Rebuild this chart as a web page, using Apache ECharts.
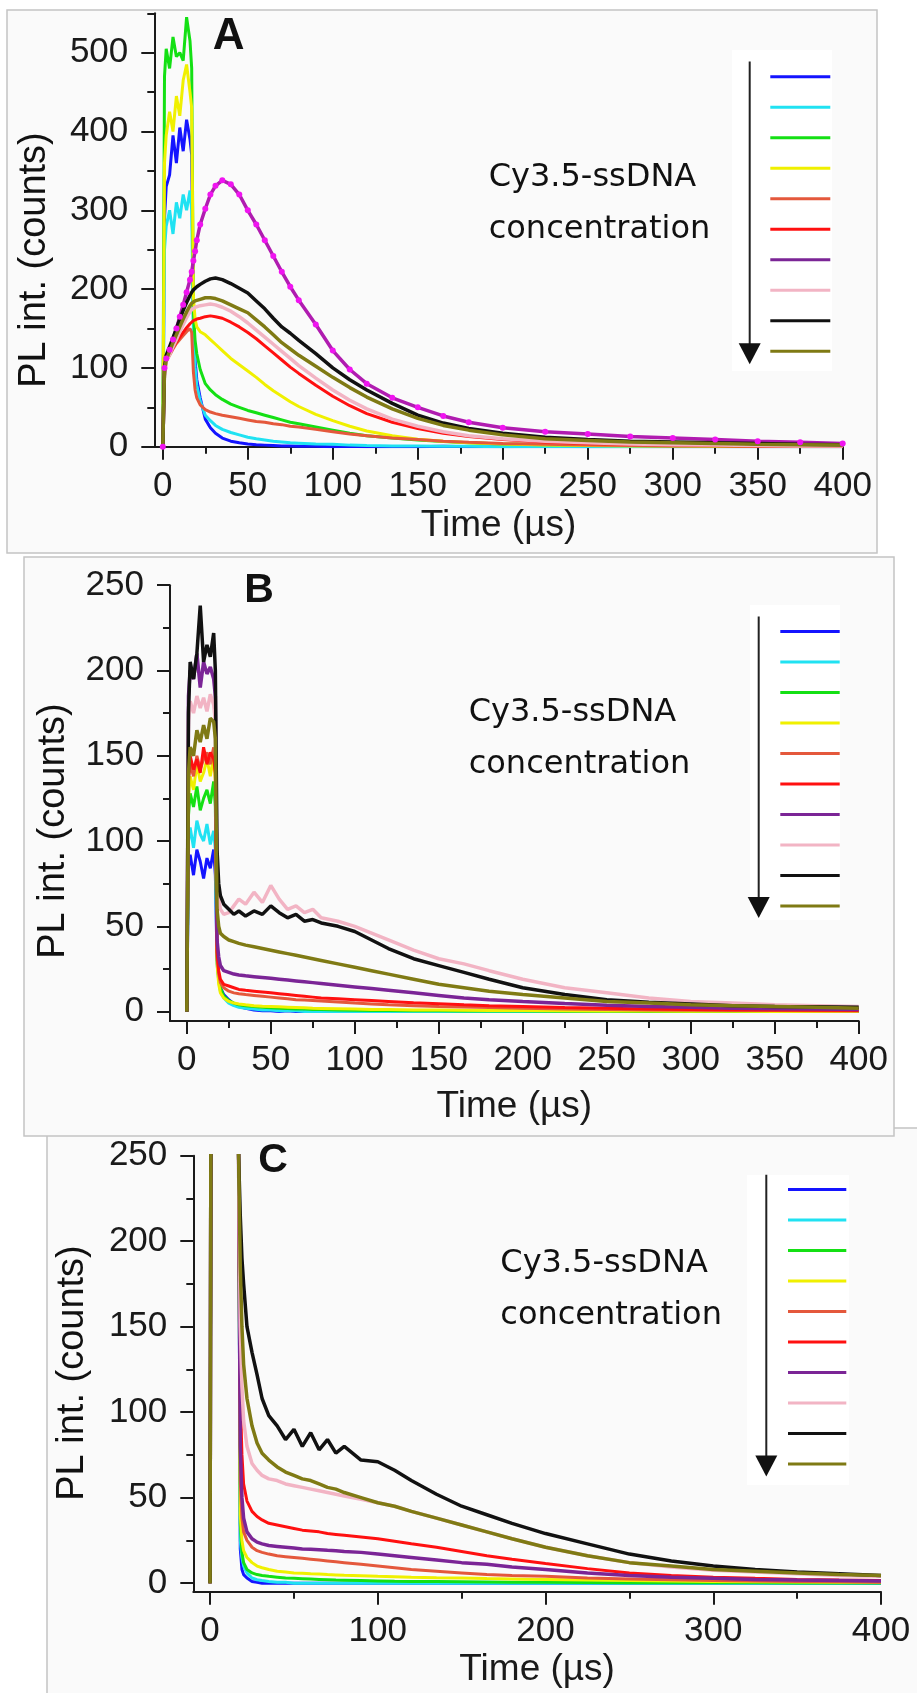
<!DOCTYPE html>
<html><head><meta charset="utf-8">
<script src="https://cdn.jsdelivr.net/npm/echarts@6/dist/echarts.min.js"></script>
<style>html,body{margin:0;padding:0;background:#fff}#c{width:917px;height:1693px}</style>
</head><body><div id="c"></div>
<script>
// Time grid (µs) shared by all series
const T = [0,1,2,4,6,8,10,12,14,16, 17,18,19,20,22,25,28,31,35,40, 45,50,55,60,65,70,75,80,90,100, 110,120,135,150,165,180,200,225,250,275, 300,325,350,375,400];

// Panel A
const A_blue   = [0,290,330,345,395,360,405,375,415,390, 370,160,110,85,62,35,24,17,11,7, 5,3.5,2.5,2,1.5,1,1,0.5,0.5,0, 0.5,0,0,0,0.5,0,0,0,0,0, 0,0,0,0,0];
const A_cyan   = [0,250,280,300,270,310,290,320,300,325, 300,150,100,78,58,40,33,27,22,18, 15,12,10,8.5,7,6,5,4.5,3.5,3, 2,1.5,1,1,0.5,0.5,0,0.5,0,0, 0,0,0,0,0];
const A_green  = [0,470,505,480,520,495,500,490,545,515, 480,170,135,118,98,80,72,66,60,54, 50,46,43,40,37,34,31,29,25,21, 17,14,11,8.5,6.5,5,3.5,2.5,2,1.5, 1,1,0.5,0.5,0.5];
const A_yellow = [0,360,395,425,400,445,420,465,485,450, 430,190,162,152,146,142,136,130,122,112, 104,96,88,79,71,64,57,51,41,33, 26,20,14,9.5,7,5,3.5,2,1.5,1, 1,0.5,0.5,0,0];
const A_coral  = [0,90,108,116,124,131,136,141,146,150, 145,95,72,62,53,47,44,42,40,38, 36,34,32,31,29,28,26,25,22,19, 16,14,11,9,7,5.5,4,3,2,1.5, 1,1,0.5,0.5,0.5];
const A_red    = [0,95,110,118,126,133,139,145,151,156, 158,160,161,162,163,165,166,165,163,158, 152,145,137,128,119,110,101,93,78,64, 52,42,31,23,17,13,9,6,4,3, 2,1.5,1,1,0.5];
const A_purple = [0,100,112,123,136,150,165,180,196,212, 222,236,248,262,282,302,320,331,338,333, 320,300,282,262,242,222,203,186,155,122, 98,80,62,50,39,31,24,19,16,13, 11,9,7,5.5,4];
const A_pink   = [0,95,108,117,127,136,146,155,164,171, 174,176,177,178,179,180,181,180,177,172, 165,157,148,139,130,121,112,103,87,72, 59,48,35,26,19,14,10,7,5,3.5, 2.5,2,1.5,1,1];
const A_black  = [0,100,116,127,138,150,162,173,183,192, 196,199,201,203,206,210,213,214,212,207, 201,195,185,175,163,152,144,135,118,100, 85,72,55,40,30,23,17,12,9,7, 6,5,4,3,2.5];
const A_olive  = [0,96,110,121,132,142,152,162,171,179, 182,184,185,186,187,189,189,188,185,180, 175,170,161,152,142,132,124,116,102,88, 75,63,48,36,27,21,15,10,8,6, 5,4,3,2.5,2];

// Panel B
const B_blue   = [0,85,92,80,95,88,78,90,84,95, 80,30,20,14,10,7,4.5,3,2,1, 0.5,0.5,0,0.5,0,0,0,0,0,0, 0,0,0,0,0,0,0,0,0,0, 0,0,0,0,0];
const B_cyan   = [0,100,108,96,112,104,100,110,98,106, 95,28,18,12,8,5,3.5,2.5,2,1.5, 1,1,0.5,0.5,0.5,0,0,0,0,0, 0,0,0,0,0,0,0,0,0,0, 0,0,0,0,0];
const B_green  = [0,115,128,120,132,118,125,130,122,135, 120,32,20,14,9,6.5,5,4,3.5,3, 2.5,2.2,2,1.8,1.6,1.5,1.3,1.2,1,0.8, 0.7,0.6,0.5,0.5,0.4,0.3,0.3,0.2,0.2,0.1, 0,0,0,0,0];
const B_yellow = [0,125,138,130,145,135,140,148,138,150, 135,28,16,11,8,6,5,4.5,4,3.5, 3.2,3,2.8,2.6,2.4,2.2,2,1.9,1.7,1.5, 1.3,1.2,1,0.9,0.8,0.7,0.6,0.5,0.4,0.3, 0.2,0.2,0.1,0.1,0];
const B_coral  = [0,135,145,138,150,142,148,152,145,155, 140,32,22,17,14,12,11,10.5,10,9.5, 9,8.5,8,7.5,7,6.8,6.5,6.2,5.6,5, 4.5,4,3.5,3,2.7,2.4,2,1.6,1.3,1, 0.8,0.7,0.6,0.5,0.4];
const B_red    = [0,138,150,142,148,140,155,145,152,148, 140,35,24,19,16,15,14,13,12.5,12, 11.5,11,10.5,10,9.5,9,8.5,8,7.5,7, 6.5,6,5.2,4.6,4,3.5,3,2.4,2,1.6, 1.3,1.1,1,0.8,0.7];
const B_purple = [0,185,200,195,210,190,205,198,202,195, 185,42,32,27,24,23,22,21.5,21,20.5, 20,19.5,19,18.5,18,17.5,17,16.5,15.5,14.5, 13.5,12.5,11,9.5,8,7,6,4.8,3.8,3, 2.5,2,1.7,1.5,1.3];
const B_pink   = [0,170,182,175,185,178,184,176,186,180, 170,85,66,60,57,58,62,66,63,70, 64,74,66,60,62,58,60,55,53,50, 46,42,36,31,28,24,19,14,11,8, 6,5,4,3.5,3];
const B_black  = [0,175,205,195,210,238,205,215,208,222, 200,95,75,68,63,60,57,59,56,59, 57,62,58,55,57,53,54,52,50,47, 42,37,31,27,23,19,14,10,7,5.5, 4.5,3.5,3,2.8,2.5];
const B_olive  = [0,140,155,150,165,158,168,160,172,170, 160,60,50,46,44,42,41,40,39,38, 37,36,35,34,33,32,31,30,28,26, 24,22,19,16,14,12,10,8,6,5, 4,3.5,3,2.5,2];

// Panel C
const C_blue   = [0,520,560,540,580,550,570,545,575,560, 255,20,8,5,3,1,0.5,0,0,0, 0,0,0,0,0,0,0,0,0,0, 0,0,0,0,0,0,0,0,0,0, 0,0,0,0,0];
const C_cyan   = [0,530,550,565,545,575,555,580,560,570, 255,25,15,10,6,3,2,1.5,1,0.5, 0.5,0,0,0,0,0,0,0,0,0, 0,0,0,0,0,0,0,0,0,0, 0,0,0,0,0];
const C_green  = [0,545,570,560,585,565,580,560,590,575, 255,35,18,12,8,6,5,4.5,4,3.5, 3,2.8,2.6,2.4,2.2,2,1.8,1.7,1.5,1.3, 1.1,1,0.9,0.8,0.7,0.6,0.5,0.4,0.3,0.3, 0.2,0.2,0.1,0.1,0.1];
const C_yellow = [0,540,575,555,590,560,585,565,595,570, 255,40,25,19,15,12,10,9,8,7, 6.5,6,5.8,5.5,5.3,5,4.8,4.6,4.3,4, 3.8,3.5,3.2,3,2.7,2.5,2.2,1.8,1.5,1.2, 1,0.8,0.7,0.6,0.5];
const C_coral  = [0,550,580,565,590,570,585,575,595,580, 255,60,38,30,25,21,19,18,17,16, 15.5,15,14.5,14,13.5,13,12.5,12,11,10, 9,8,7,6,5,4.5,4,3,2.5,2, 1.5,1.2,1,0.8,0.6];
const C_red    = [0,560,590,575,600,580,595,585,605,590, 250,110,75,58,48,42,39,37,35,34, 33,32,31,30.5,30,29,28.5,28,27,26, 24.5,23,21,18.5,16,14,11.5,8.5,6,4.5, 3.5,2.8,2.2,1.8,1.5];
const C_purple = [0,555,585,570,600,575,590,580,600,585, 250,80,50,38,30,26,24,23,22,21.5, 21,20.5,20,19.8,19.5,19.2,19,18.5,18,17, 16,15,13.5,12,11,9.5,8,6,4.5,3.5, 2.8,2.2,1.8,1.5,1.2];
const C_pink   = [0,565,595,580,610,585,600,590,610,595, 250,150,115,95,80,70,66,63,61,60, 58,57,56,55,54,53,52,51,49,47, 45,42,38,34,30,26,21,16,12,9.5, 7.5,6.5,5.5,4.5,4];
const C_black  = [0,575,605,590,620,595,610,600,620,605, 250,215,190,175,150,135,122,108,98,92, 84,90,80,88,78,84,76,80,72,71, 66,60,52,45,40,35,29,23,17,13, 10,8,6.5,5.5,4.5];
const C_olive  = [0,570,600,585,615,590,605,595,615,600, 250,185,150,128,108,92,82,76,72,68, 65,63,61,60,58,56,55,53,50,47, 45,42,38,34,30,26,21,16,12,10, 8,7,6,5,4.5];

// Tick values
const X_MAJOR_AB = [0,50,100,150,200,250,300,350,400];
const X_MINOR_AB = [25,75,125,175,225,275,325,375];
const X_MAJOR_C  = [0,100,200,300,400];
const X_MINOR_C  = [50,150,250,350];
const Y_MAJOR_A  = [0,100,200,300,400,500];
const Y_MINOR_A  = [50,150,250,350,450,550];
const Y_MAJOR_BC = [0,50,100,150,200,250];
const Y_MINOR_BC = [25,75,125,175,225];

const COLORS = ['#1414ff','#20e2f2','#14e014','#f0f000','#e4583c','#ff1010','#7b2596','#f2b4c4','#111111','#7f7a14'];

const FONT = "'Liberation Sans', Arial, Helvetica, sans-serif";
const panels = [
  {id:'A', grid:{left:154.3, top:13.3, width:688.4, height:433.4}, x:[-5,400], y:[0,550],
   xMaj:X_MAJOR_AB, xMin:X_MINOR_AB, yMaj:Y_MAJOR_A, yMin:Y_MINOR_A, nameGap:61,
   data:[A_blue,A_cyan,A_green,A_yellow,A_coral,A_red,A_purple,A_pink,A_black,A_olive],
   legend:{left:770.3, top:75.3, w:60}},
  {id:'B', grid:{left:170, top:585.2, width:688.7, height:435.8}, x:[-10,400], y:[-5.5,250],
   xMaj:X_MAJOR_AB, xMin:X_MINOR_AB, yMaj:Y_MAJOR_BC, yMin:Y_MINOR_BC, nameGap:67,
   data:[B_blue,B_cyan,B_green,B_yellow,B_coral,B_red,B_purple,B_pink,B_black,B_olive],
   legend:{left:780.3, top:629.9, w:59.4}},
  {id:'C', grid:{left:193.3, top:1155.7, width:687.7, height:436}, x:[-10,400], y:[-5,250],
   xMaj:X_MAJOR_C, xMin:X_MINOR_C, yMaj:Y_MAJOR_BC, yMin:Y_MINOR_BC, nameGap:60,
   data:[C_blue,C_cyan,C_green,C_yellow,C_coral,C_red,C_purple,C_pink,C_black,C_olive],
   legend:{left:788, top:1187.9, w:58.3}}
];

const AX = '#1a1a1a';
const grid=[], xAxis=[], yAxis=[], series=[], legend=[];
panels.forEach((p, gi) => {
  grid.push(Object.assign({containLabel:false}, p.grid));
  const xi = xAxis.length, yi = yAxis.length;
  xAxis.push({type:'value', gridIndex:gi, min:p.x[0], max:p.x[1], position:'bottom',
    axisLine:{show:true, onZero:false, lineStyle:{color:AX, width:2}},
    axisTick:{show:true, customValues:p.xMaj, length:13, lineStyle:{color:AX, width:2}},
    axisLabel:{customValues:p.xMaj, fontSize:35, fontFamily:FONT, color:'#1a1a1a', margin:22},
    splitLine:{show:false}, name:'Time (\u00b5s)', nameLocation:'middle', nameGap:p.nameGap,
    nameTextStyle:{fontSize:37, fontFamily:FONT, color:'#1a1a1a'}});
  xAxis.push({type:'value', gridIndex:gi, min:p.x[0], max:p.x[1], position:'bottom',
    axisLine:{show:false, onZero:false},
    axisTick:{show:true, customValues:p.xMin, length:7, lineStyle:{color:AX, width:2}},
    axisLabel:{show:false}, splitLine:{show:false}});
  yAxis.push({type:'value', gridIndex:gi, min:p.y[0], max:p.y[1], position:'left',
    axisLine:{show:true, onZero:false, lineStyle:{color:AX, width:2}},
    axisTick:{show:true, customValues:p.yMaj, length:13, lineStyle:{color:AX, width:2}},
    axisLabel:{customValues:p.yMaj, fontSize:35, fontFamily:FONT, color:'#1a1a1a', margin:26},
    splitLine:{show:false}});
  yAxis.push({type:'value', gridIndex:gi, min:p.y[0], max:p.y[1], position:'left',
    axisLine:{show:false, onZero:false},
    axisTick:{show:true, customValues:p.yMin, length:7, lineStyle:{color:AX, width:2}},
    axisLabel:{show:false}, splitLine:{show:false}});
  const names = [];
  p.data.forEach((vals, si) => {
    const name = p.id + (si+1);
    names.push(name);
    const magenta = (p.id === 'A' && si === 6);
    const heavy = (si >= 6);
    series.push({type:'line', name, xAxisIndex:xi, yAxisIndex:yi,
      data: T.map((t,i)=>[t, vals[i]]),
      showSymbol: magenta, symbol:'circle', symbolSize: magenta ? 6 : 2,
      itemStyle:{color: magenta ? '#f014f0' : COLORS[si]},
      lineStyle:{color: magenta ? '#b01cb0' : COLORS[si], width: heavy ? 3.5 : 3},
      clip:true, animation:false, silent:true});
  });
  legend.push({orient:'vertical', left:p.legend.left, top:p.legend.top, padding:0,
    itemWidth:p.legend.w, itemHeight:3, itemGap:27.5, icon:'rect', selectedMode:false,
    formatter:()=>'', textStyle:{fontSize:3, lineHeight:3},
    data: names.map((n,i)=>({name:n, itemStyle:{color:COLORS[i]}}))});
});

function arrow(x, y0, tip){
  return [
    {type:'line', shape:{x1:x, y1:y0, x2:x, y2:tip-18}, style:{stroke:'#222', lineWidth:2}, z:50},
    {type:'polygon', shape:{points:[[x-11, tip-21],[x+11, tip-21],[x, tip]]}, style:{fill:'#111'}, z:50}
  ];
}
function txt(x, y, text, font, align, extra){
  return Object.assign({type:'text', x, y, z:60,
    style:{text, font, fill:'#111', align:align||'left', textAlign:align||'left', verticalAlign:'middle', textVerticalAlign:'middle'}}, extra||{});
}
const LFONT = "32px 'DejaVu Sans', Verdana, sans-serif";
const YFONT = "38px 'Liberation Sans', Arial, sans-serif";
const graphic = [
  // frames (C first, then B over it, then A)
  {type:'rect', shape:{x:47, y:1128, width:900, height:600}, style:{fill:'#fafafa', stroke:'#c4c4c4', lineWidth:1.5}, z:-10},
  {type:'rect', shape:{x:24, y:557, width:870, height:579}, style:{fill:'#fafafa', stroke:'#c4c4c4', lineWidth:1.5}, z:-9},
  {type:'rect', shape:{x:7, y:10, width:870, height:543}, style:{fill:'#fafafa', stroke:'#c4c4c4', lineWidth:1.5}, z:-9},
  // white patches behind legends
  {type:'rect', shape:{x:732, y:50, width:100, height:321}, style:{fill:'#ffffff'}, z:-8},
  {type:'rect', shape:{x:750, y:605, width:90, height:315}, style:{fill:'#ffffff'}, z:-8},
  {type:'rect', shape:{x:747, y:1175, width:102, height:310}, style:{fill:'#ffffff'}, z:-8},
  ...arrow(749.7, 61.4, 364.3),
  ...arrow(758.7, 616.6, 918),
  ...arrow(766.3, 1174.8, 1476.4),
  txt(488.7, 178, 'Cy3.5-ssDNA', LFONT),
  txt(488.7, 230, 'concentration', LFONT),
  txt(468.7, 713, 'Cy3.5-ssDNA', LFONT),
  txt(468.7, 765, 'concentration', LFONT),
  txt(500.3, 1264, 'Cy3.5-ssDNA', LFONT),
  txt(500.3, 1315.5, 'concentration', LFONT),
  txt(228.7, 37, 'A', "bold 44px 'Liberation Sans', Arial, sans-serif", 'center'),
  txt(259, 591, 'B', "bold 41px 'Liberation Sans', Arial, sans-serif", 'center'),
  txt(273, 1161, 'C', "bold 41px 'Liberation Sans', Arial, sans-serif", 'center'),
  txt(35, 260, 'PL int. (counts)', YFONT, 'center', {rotation:Math.PI/2}),
  txt(53.5, 831, 'PL int. (counts)', YFONT, 'center', {rotation:Math.PI/2}),
  txt(73, 1373, 'PL int. (counts)', YFONT, 'center', {rotation:Math.PI/2})
];

const chart = echarts.init(document.getElementById('c'), null, {renderer:'canvas'});
chart.setOption({backgroundColor:'#ffffff', animation:false, grid, xAxis, yAxis, series, legend, graphic});
</script>
</body></html>
